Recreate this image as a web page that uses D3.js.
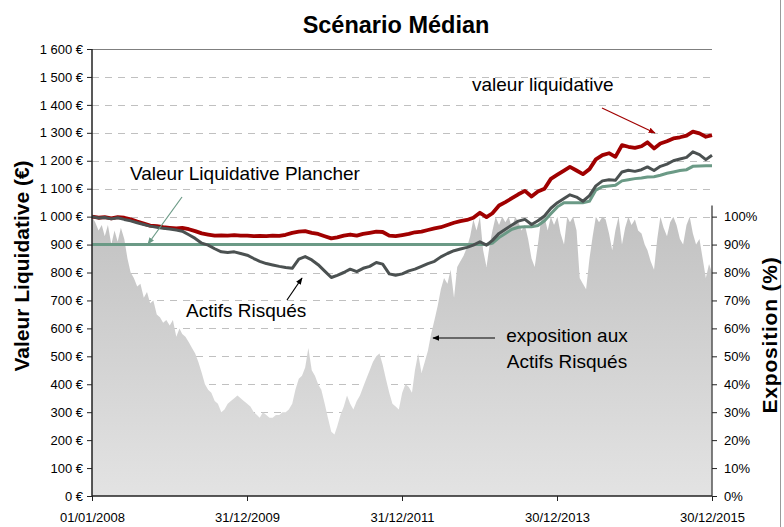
<!DOCTYPE html>
<html><head><meta charset="utf-8">
<script src="https://cdn.jsdelivr.net/npm/d3@7"></script>
<style>body{margin:0;background:#fff;} svg{display:block;font-family:"Liberation Sans",Arial,sans-serif;}</style>
</head><body><svg id="c" width="784" height="527"></svg>
<script>
const titleText = "Scénario Médian";
const startDate = "2008-01-01", endDate = "2015-12-30";
const xTickDates = ["2008-01-01","2009-12-31","2011-12-31","2013-12-30","2015-12-30"];
const yLeftTicks = [0,100,200,300,400,500,600,700,800,900,1000,1100,1200,1300,1400,1500,1600];
const yRightTicks = [0,10,20,30,40,50,60,70,80,90,100];

// monthly values (Jan 2008 ... Dec 2015)
const valeurLiquidative = [
 1000,996,998,994,998,996,990,982,975,968,966,962,
 960,958,960,955,948,940,936,932,933,932,934,932,
 932,930,931,930,932,931,935,942,946,948,942,938,
 930,922,926,932,936,932,938,942,946,945,932,930,
 934,938,944,946,952,958,962,970,978,984,988,996,
 1014,998,1012,1040,1052,1066,1080,1092,1072,1090,1100,1135,
 1150,1165,1178,1165,1152,1170,1205,1220,1227,1214,1256,1250,
 1246,1252,1266,1244,1262,1270,1280,1284,1290,1304,1298,1286,
 1292];
const actifsRisques = [
 1000,995,997,992,996,990,985,978,972,966,962,958,
 956,952,948,935,922,905,898,885,874,872,874,868,
 862,850,840,832,827,822,818,815,848,857,845,828,
 805,782,790,800,812,803,815,822,836,830,795,790,
 795,806,812,822,832,840,856,868,878,884,890,898,
 910,898,915,940,955,970,984,990,972,985,1002,1030,
 1050,1065,1078,1070,1055,1075,1110,1128,1132,1130,1160,1166,
 1162,1168,1178,1165,1180,1188,1200,1206,1212,1232,1222,1204,
 1220];
const plancher = [
 900,900,900,900,900,900,900,900,900,900,900,900,
 900,900,900,900,900,900,900,900,900,900,900,900,
 900,900,900,900,900,900,900,900,900,900,900,900,
 900,900,900,900,900,900,900,900,900,900,900,900,
 900,900,900,900,900,900,900,900,900,900,900,900,
 900,900,905,925,940,955,962,964,964,968,985,1010,
 1035,1050,1050,1050,1050,1055,1095,1107,1110,1112,1128,1132,
 1136,1138,1142,1143,1148,1155,1160,1165,1168,1180,1181,1182,
 1182];
// half-monthly exposure (%)
const exposition = [
 100,98,95,97,93,97,90,95,91,96,92,85,80,78,75,76,71,73,69,70,65,64,62,63,
 61,63,57,60,58,57,55,53,51,48,44,40,38,37,34,33,30,31,33,34,35,36,35,34,
 33,32,30,29,28,30,29,28,28,29,29,30,30,31,33,38,42,43,46,53,45,43,40,38,
 33,28,23,22,25,29,32,36,33,31,34,36,39,42,45,48,50,51,47,42,37,33,32,31,
 37,40,39,37,45,51,44,48,52,58,63,68,74,78,76,81,71,82,84,86,89,93,99,95,
 100,88,82,90,95,100,97,100,98,100,96,100,98,95,97,92,85,82,90,99,100,95,100,97,
 100,94,90,100,98,100,95,78,76,74,85,93,100,98,100,99,94,88,95,100,90,96,100,97,
 99,95,94,90,88,84,81,92,100,96,93,98,100,97,92,90,97,100,94,90,92,85,78,83,
 80];

const annotations = [
 {text:"valeur liquidative", x:472, y:91, anchor:"start", color:"#000", ax1:602, ay1:108, ax2:655, ay2:133, acolor:"#a00000", mk:"mr"},
 {text:"Valeur Liquidative Plancher", x:130, y:180, anchor:"start", color:"#000", ax1:182, ay1:197, ax2:148, ay2:244, acolor:"#6b9a86", mk:"mt"},
 {text:"Actifs Risqués", x:186, y:317, anchor:"start", color:"#000", ax1:287, ay1:300, ax2:302, ay2:278, acolor:"#000", mk:"mb"},
 {text:"exposition aux", x:567, y:342, anchor:"middle", color:"#000", ax1:495, ay1:338, ax2:433, ay2:338, acolor:"#000", mk:"mb"},
 {text:"Actifs Risqués", x:567, y:368, anchor:"middle", color:"#000"}
];

const L = 92, R = 712, T = 49, B = 496;
const parse = d3.timeParse("%Y-%m-%d");
const d0 = parse(startDate), d1 = parse(endDate);
const x = d3.scaleTime().domain([d0, d1]).range([L, R]);
const yL = d3.scaleLinear().domain([0, 1600]).range([B, T]);
const yR = d3.scaleLinear().domain([0, 104]).range([B, B - 104 * (B - T) / 1600 * 10]);

const monthDates = valeurLiquidative.map((_, i) => i < valeurLiquidative.length - 1 ? d3.timeMonth.offset(d0, i) : d1);
const halfDates = exposition.map((_, i) => {
  if (i === exposition.length - 1) return d1;
  const m = d3.timeMonth.offset(d0, Math.floor(i / 2));
  return i % 2 ? d3.timeDay.offset(m, 15) : m;
});

const svg = d3.select("#c");
const defs = svg.append("defs");
const g = defs.append("linearGradient").attr("id", "ag").attr("gradientUnits", "userSpaceOnUse")
  .attr("x1", 0).attr("y1", yR(100)).attr("x2", 0).attr("y2", B);
g.append("stop").attr("offset", 0).attr("stop-color", "#c2c2c2");
g.append("stop").attr("offset", 1).attr("stop-color", "#e3e3e3");
[["mr","#a00000"],["mt","#6b9a86"],["mb","#000"]].forEach(([id,c]) => {
  defs.append("marker").attr("id", id).attr("viewBox", "0 0 10 10").attr("refX", 9).attr("refY", 5)
    .attr("markerWidth", 7).attr("markerHeight", 7).attr("orient", "auto").attr("markerUnits","userSpaceOnUse")
    .append("path").attr("d", "M0,1 L10,5 L0,9 Z").attr("fill", c);
});

// right border of chart area
svg.append("line").attr("x1", 780.5).attr("x2", 780.5).attr("y1", 0).attr("y2", 527).attr("stroke", "#9a9a9a");

// gridlines
svg.append("g").selectAll("line").data(yLeftTicks.filter(v => v > 0 && v < 1600)).join("line")
  .attr("x1", L).attr("x2", R).attr("y1", d => Math.round(yL(d)) + 0.5).attr("y2", d => Math.round(yL(d)) + 0.5)
  .attr("stroke", "#c0c0c0").attr("stroke-dasharray", "7,6");
svg.append("line").attr("x1", L).attr("x2", R).attr("y1", T + 0.5).attr("y2", T + 0.5).attr("stroke", "#7f7f7f");

// exposure area
svg.append("path").datum(exposition)
  .attr("d", d3.area().x((d, i) => x(halfDates[i])).y0(B).y1(d => yR(d)))
  .attr("fill", "url(#ag)");

const line = arr => d3.line().x((d, i) => x(monthDates[i])).y(d => yL(d))(arr);
svg.append("path").attr("d", line(plancher)).attr("fill", "none").attr("stroke", "#6b9a86").attr("stroke-width", 3);
svg.append("path").attr("d", line(valeurLiquidative)).attr("fill", "none").attr("stroke", "#a00000").attr("stroke-width", 3.8).attr("stroke-linejoin","round");
svg.append("path").attr("d", line(actifsRisques)).attr("fill", "none").attr("stroke", "#4b5151").attr("stroke-width", 3).attr("stroke-linejoin","round");

// axes
const axL = svg.append("g").attr("transform", `translate(${L},0)`)
  .call(d3.axisLeft(yL).tickValues(yLeftTicks).tickSize(5).tickPadding(4)
    .tickFormat(d => d3.format(",")(d).replace(/,/g, " ") + " €"));
const axR = svg.append("g").attr("transform", `translate(${R},0)`)
  .call(d3.axisRight(yR).tickValues(yRightTicks).tickSize(5).tickPadding(7).tickFormat(d => d + "%"));
const axB = svg.append("g").attr("transform", `translate(0,${B})`)
  .call(d3.axisBottom(x).tickValues(xTickDates.map(parse)).tickSize(5).tickPadding(12)
    .tickFormat(d3.timeFormat("%d/%m/%Y")));
[axL, axR, axB].forEach(a => {
  a.selectAll("text").attr("font-size", 13).attr("fill", "#000").attr("font-family", "Liberation Sans, Arial, sans-serif");
  a.select(".domain").attr("stroke", "#222").attr("stroke-width", 1.5);
  a.selectAll(".tick line").attr("stroke", "#222");
});
axL.select(".domain").attr("d", `M0,${T}V${B}`);
axR.select(".domain").attr("d", `M0,${yR(104)}V${B}`).attr("stroke", "#555");
axB.select(".domain").attr("d", `M${L},0H${R}`);

// titles
svg.append("text").attr("x", 396).attr("y", 33).attr("text-anchor", "middle")
  .attr("font-size", 23.5).attr("font-weight", "bold").text(titleText);
svg.append("text").attr("transform", "translate(29,266) rotate(-90)").attr("text-anchor", "middle")
  .attr("font-size", 21).attr("font-weight", "bold").text("Valeur Liquidative (€)");
svg.append("text").attr("transform", "translate(777,335) rotate(-90)").attr("text-anchor", "middle")
  .attr("font-size", 21).attr("font-weight", "bold").attr("letter-spacing", 0.8).text("Exposition (%)");

// annotations
annotations.forEach(a => {
  svg.append("text").attr("x", a.x).attr("y", a.y).attr("text-anchor", a.anchor)
    .attr("font-size", 19).attr("fill", a.color).text(a.text);
  if (a.ax1 !== undefined) {
    svg.append("line").attr("x1", a.ax1).attr("y1", a.ay1).attr("x2", a.ax2).attr("y2", a.ay2)
      .attr("stroke", a.acolor).attr("stroke-width", 1.2).attr("marker-end", `url(#${a.mk})`);
  }
});
</script></body></html>
